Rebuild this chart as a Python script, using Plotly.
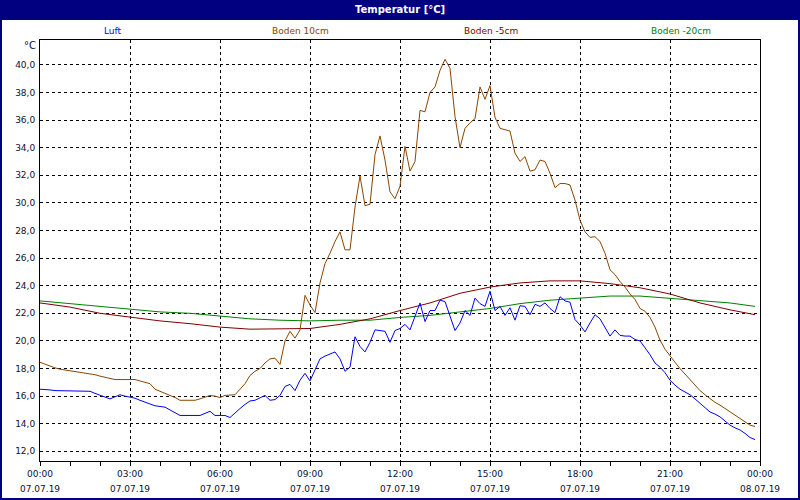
import pandas as pd
import plotly.graph_objects as go

# 10-minute readings, 00:00 .. 23:50
luft = [
    16.5, 16.5, 16.45, 16.4, 16.4, 16.35, 16.35, 16.35, 16.35, 16.35, 16.35, 16.2,
    16.05, 15.95, 15.8, 15.95, 16.1, 16.0, 15.95, 15.85, 15.7, 15.55, 15.4, 15.3,
    15.25, 15.2, 15.0, 14.8, 14.6, 14.6, 14.6, 14.6, 14.6, 14.75, 14.9, 14.6,
    14.6, 14.6, 14.45, 14.8, 15.1, 15.4, 15.65, 15.7, 15.85, 16.05, 15.7, 15.75,
    16.05, 16.7, 16.85, 16.4, 17.15, 17.65, 17.1, 17.9, 18.7, 18.9, 19.05, 19.2,
    18.7, 17.8, 18.1, 20.3, 19.6, 19.2, 19.9, 20.8, 20.75, 20.7, 19.9, 20.75,
    20.9, 21.2, 20.8, 21.75, 22.75, 21.4, 22.2, 22.2, 22.95, 22.85, 21.75, 20.75,
    21.3, 22.2, 21.85, 23.1, 22.7, 22.5, 23.6, 22.2, 22.5, 21.85, 22.4, 21.5,
    22.55, 22.5, 21.9, 22.65, 22.5, 22.75, 22.35, 22.05, 23.2, 22.9, 22.8, 21.55,
    21.15, 20.65, 21.3, 21.9, 21.6, 21.0, 20.35, 20.8, 20.4, 20.35, 20.35, 20.1,
    20.0, 19.5, 19.0, 18.4, 18.1, 17.7, 17.15, 16.8, 16.5, 16.3, 16.1, 15.8,
    15.5, 15.2, 14.85, 14.7, 14.5, 14.2, 13.9, 13.7, 13.55, 13.3, 13.0, 12.85,
]
boden_10 = [
    18.45, 18.3, 18.2, 18.05, 17.95, 17.9, 17.8, 17.75, 17.7, 17.65, 17.6, 17.55,
    17.45, 17.35, 17.25, 17.2, 17.2, 17.2, 17.2, 17.2, 17.1, 17.0, 16.9, 16.5,
    16.35, 16.25, 16.1, 15.9, 15.7, 15.7, 15.7, 15.7, 15.8, 15.9, 16.05, 16.0,
    15.9, 16.05, 16.05, 16.1, 16.5, 16.9, 17.5, 17.8, 18.0, 18.4, 18.7, 18.75,
    18.3, 20.0, 20.7, 20.2, 20.8, 23.3, 22.6, 22.05, 24.2, 25.6, 26.35, 27.2,
    27.9, 26.6, 26.6, 29.7, 31.95, 29.8, 29.9, 33.5, 34.85, 33.1, 30.8, 30.3,
    31.2, 34.1, 32.3, 33.0, 36.7, 36.6, 38.0, 38.4, 39.6, 40.4, 39.75, 36.25,
    34.0, 35.4, 35.8, 36.1, 38.4, 37.5, 38.5, 36.2, 35.4, 35.3, 35.2, 33.6,
    33.0, 33.35, 32.3, 32.4, 33.1, 33.0, 32.15, 31.1, 31.4, 31.4, 31.3, 30.2,
    28.75, 27.9, 27.5, 27.55, 27.2, 26.35, 25.15, 24.8, 24.3, 23.9, 23.4, 23.0,
    22.35, 22.15, 21.7, 21.0, 20.05, 19.4, 18.9, 18.45, 18.0, 17.6, 17.2, 16.8,
    16.4, 16.1, 15.8, 15.55, 15.35, 15.1, 14.85, 14.6, 14.4, 14.15, 13.9, 13.8,
]

# hourly readings 00:00 .. 23:00 plus the last one at 23:50
boden_5 = [22.75, 22.45, 22.0, 21.7, 21.45, 21.25, 21.0, 20.85, 20.85, 20.9, 21.2, 21.6,
           22.2, 22.75, 23.45, 23.9, 24.2, 24.35, 24.35, 24.15, 23.85, 23.4, 22.75, 22.25, 21.9]
boden_20 = [22.9, 22.7, 22.5, 22.3, 22.1, 22.0, 21.8, 21.6, 21.5, 21.45, 21.5, 21.5,
            21.7, 21.85, 22.1, 22.35, 22.7, 22.95, 23.1, 23.25, 23.25, 23.1, 22.9, 22.75, 22.5]

series_names = ["Luft", "Boden 10cm", "Boden -5cm", "Boden -20cm"]
series_colors = ["#0000FF", "#8B4500", "#800000", "#008000"]

y_ticks = [12, 14, 16, 18, 20, 22, 24, 26, 28, 30, 32, 34, 36, 38, 40]
y_labels = [f"{v:.1f}".replace(".", ",") for v in y_ticks]

x_ticks = pd.date_range("2019-07-07 00:00", "2019-07-08 00:00", freq="3h")
x_time_labels = [t.strftime("%H:%M") for t in x_ticks]
x_date_labels = [t.strftime("%d.%m.%y") for t in x_ticks]

t10 = pd.date_range("2019-07-07 00:00", periods=len(luft), freq="10min")
t_hour = list(pd.date_range("2019-07-07 00:00", periods=24, freq="1h")) + [pd.Timestamp("2019-07-07 23:50")]

NAVY = "#000080"
TXT = "#101030"
FONT = "DejaVu Sans"

fig = go.Figure()
fig.add_trace(go.Scatter(x=t_hour, y=boden_20, mode="lines", line=dict(color=series_colors[3], width=1)))
fig.add_trace(go.Scatter(x=t_hour, y=boden_5, mode="lines", line=dict(color=series_colors[2], width=1)))
fig.add_trace(go.Scatter(x=t10, y=boden_10, mode="lines", line=dict(color=series_colors[1], width=1)))
fig.add_trace(go.Scatter(x=t10, y=luft, mode="lines", line=dict(color=series_colors[0], width=1)))

# plot area is 720 x 421 px, margins l=40 r=40 t=40 b=39
pw, ph = 720.0, 421.0


def px_x(p):
    return (p - 40) / pw


def px_y(p):
    return (461 - p) / ph


shapes = [
    # title bar
    dict(type="rect", xref="paper", yref="paper", x0=px_x(0), x1=px_x(800), y0=px_y(20), y1=px_y(0),
         fillcolor=NAVY, line=dict(width=0), layer="above"),
    # window frame
    dict(type="rect", xref="paper", yref="paper", x0=px_x(1), x1=px_x(799), y0=px_y(499), y1=px_y(1),
         line=dict(color=NAVY, width=2), layer="above"),
]

annotations = [
    dict(text="<b>Temperatur [°C]</b>", xref="paper", yref="paper", x=px_x(400), y=px_y(10),
         showarrow=False, font=dict(family=FONT, size=10, color="white"), xanchor="center", yanchor="middle"),
    dict(text="°C", xref="paper", yref="paper", x=px_x(38), y=px_y(45),
         showarrow=False, font=dict(family=FONT, size=10, color=TXT), xanchor="right", yanchor="middle"),
]
legend_x = [113, 300, 491, 681]
for name, color, lx in zip(series_names, series_colors, legend_x):
    annotations.append(dict(text=name, xref="paper", yref="paper", x=px_x(lx), y=px_y(31),
                            showarrow=False, font=dict(family=FONT, size=9, color=color),
                            xanchor="center", yanchor="middle"))
for t, d in zip(x_ticks, x_date_labels):
    annotations.append(dict(text=d, xref="x", yref="paper", x=t, y=px_y(489),
                            showarrow=False, font=dict(family=FONT, size=9, color=TXT),
                            xanchor="center", yanchor="middle"))

fig.update_layout(
    width=800,
    height=500,
    margin=dict(l=40, r=40, t=40, b=39),
    paper_bgcolor="white",
    plot_bgcolor="white",
    showlegend=False,
    shapes=shapes,
    annotations=annotations,
    font=dict(family=FONT, size=9, color=TXT),
)
fig.update_xaxes(
    type="date",
    range=["2019-07-07 00:00", "2019-07-08 00:00"],
    tickmode="array",
    tickvals=x_ticks,
    ticktext=x_time_labels,
    ticks="outside",
    ticklen=4,
    tickcolor="black",
    showgrid=True,
    gridcolor="black",
    griddash="dot",
    gridwidth=1,
    showline=True,
    linecolor="black",
    linewidth=1,
    mirror=True,
    zeroline=False,
    minor=dict(tickmode="linear", tick0="2019-07-07", dtick=3600000, ticks="outside",
               ticklen=4, tickcolor="black", showgrid=False),
    tickfont=dict(family=FONT, size=9, color=TXT),
)
fig.update_yaxes(
    range=[11.3, 41.8],
    tickmode="array",
    tickvals=y_ticks,
    ticktext=y_labels,
    ticks="",
    showgrid=True,
    gridcolor="black",
    griddash="dot",
    gridwidth=1,
    showline=True,
    linecolor="black",
    linewidth=1,
    mirror=True,
    zeroline=False,
    ticklabelstandoff=2,
    tickfont=dict(family=FONT, size=9, color=TXT),
)

# the page body has a default 8px margin; drop it so the 800x500 figure fills the window
fig.write_html(
    "out.html",
    config={"displayModeBar": False},
    post_script="document.body.style.margin='0';document.body.style.overflow='hidden';",
)
